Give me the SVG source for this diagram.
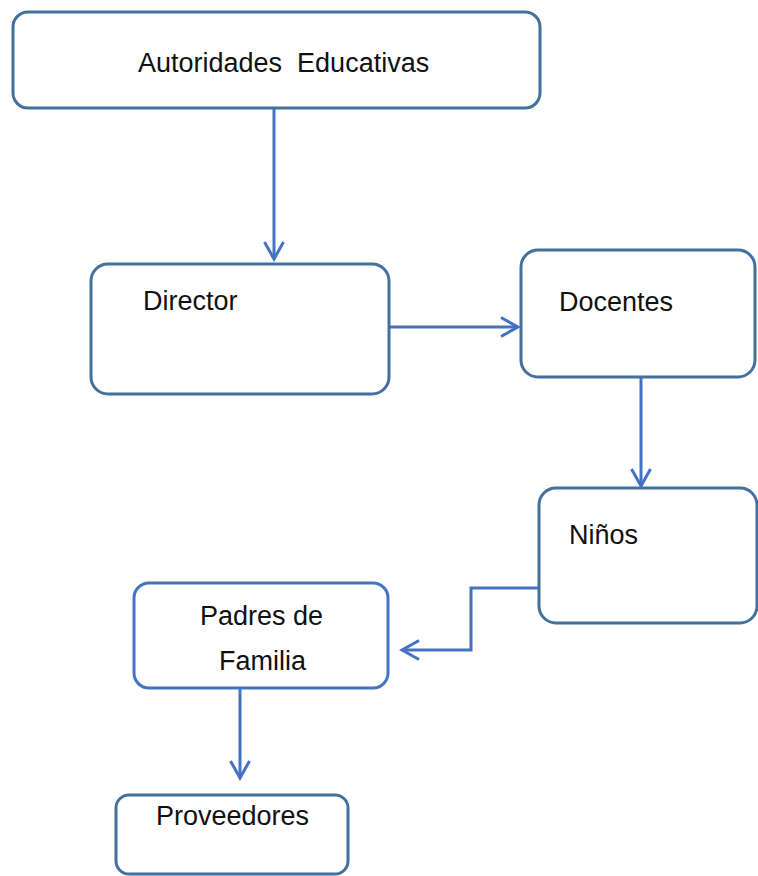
<svg xmlns="http://www.w3.org/2000/svg" width="758" height="876" viewBox="0 0 758 876">
<style>
.box{fill:#fff;stroke:#41719C;stroke-width:3}
.box2{fill:#fff;stroke:#4472C4;stroke-width:3}
.lbl{font-family:"Liberation Sans",Arial,sans-serif;font-size:27px;fill:#111;white-space:pre}
.conn{fill:none;stroke:#4472C4;stroke-width:3}
</style>
<defs>
<marker id="arr" markerUnits="userSpaceOnUse" viewBox="0 0 22 22" refX="19" refY="11" markerWidth="22" markerHeight="22" orient="auto">
<path d="M2,1.5 L19,11 L2,20.5" fill="none" stroke="#4472C4" stroke-width="3"/>
</marker>
</defs>
<rect width="758" height="876" fill="#fff"/>
<g id="connectors">
<path class="conn" d="M274,108 V259" marker-end="url(#arr)"/>
<path class="conn" d="M389,327 H518" marker-end="url(#arr)"/>
<path class="conn" d="M641,377 V486" marker-end="url(#arr)"/>
<path class="conn" d="M539,588 H471 V650 H402" marker-end="url(#arr)"/>
<path class="conn" d="M240,688 V778" marker-end="url(#arr)"/>
</g>
<g id="autoridades">
<rect class="box" x="13" y="12" width="527" height="96" rx="15"/>
<text class="lbl" x="138" y="72" xml:space="preserve">Autoridades  Educativas</text>
</g>
<g id="director">
<rect class="box" x="91" y="264" width="298" height="130" rx="17"/>
<text class="lbl" x="143" y="310">Director</text>
</g>
<g id="docentes">
<rect class="box" x="521" y="250" width="234" height="127" rx="17"/>
<text class="lbl" x="559" y="311">Docentes</text>
</g>
<g id="ninos">
<rect class="box" x="539" y="488" width="218" height="135" rx="17"/>
<text class="lbl" x="569" y="544">Niños</text>
</g>
<g id="padres">
<rect class="box2" x="134" y="583" width="254" height="105" rx="15"/>
<text class="lbl" x="200" y="625">Padres de</text>
<text class="lbl" x="219" y="670">Familia</text>
</g>
<g id="proveedores">
<rect class="box" x="116" y="795" width="232" height="79" rx="13"/>
<text class="lbl" x="156" y="825">Proveedores</text>
</g>
</svg>
